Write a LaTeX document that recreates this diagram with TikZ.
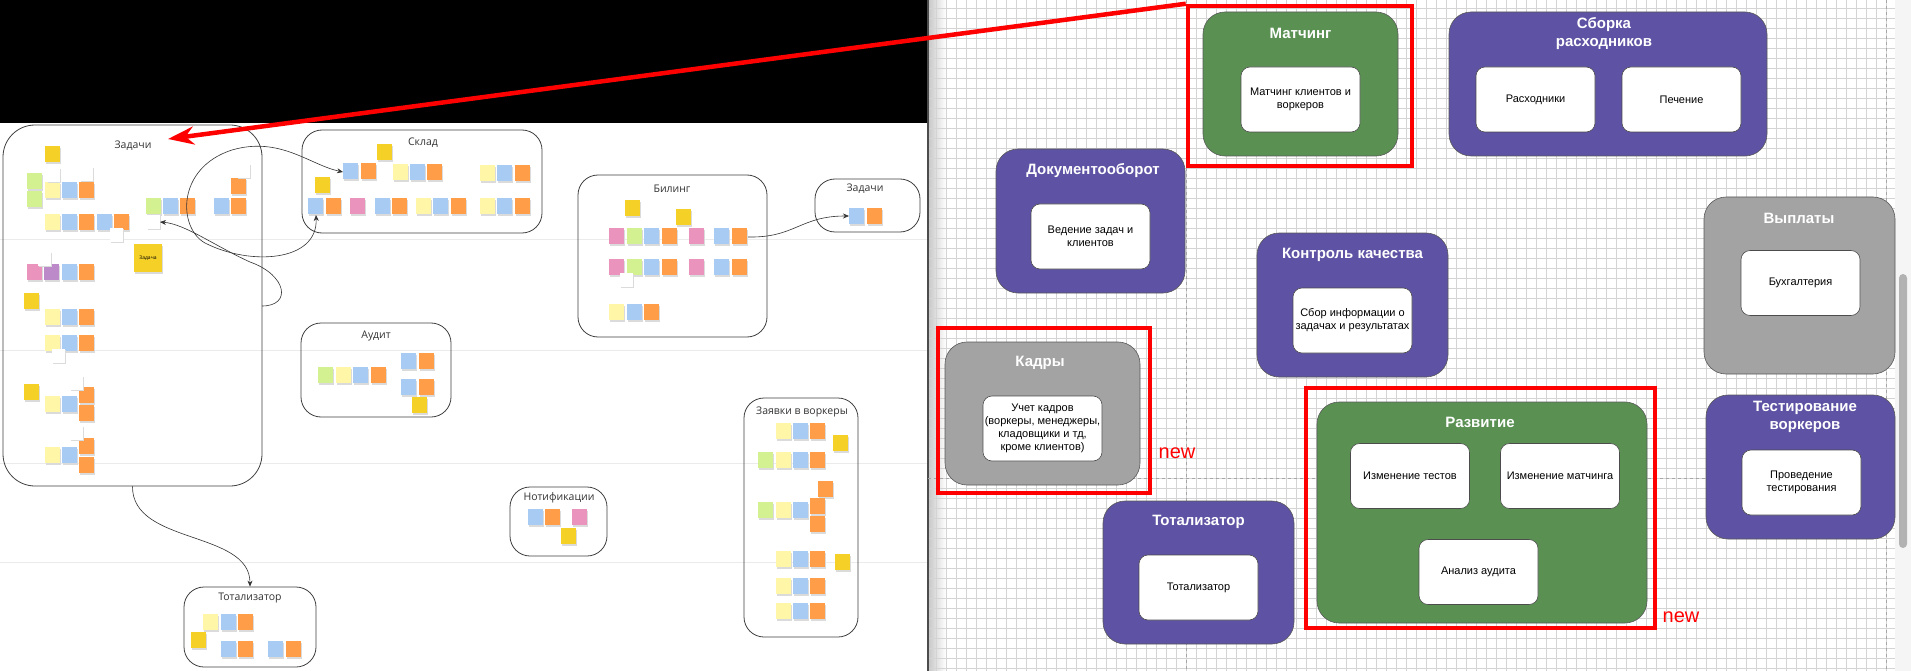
\documentclass[tikz,border=0pt]{standalone}
\usepackage{fontspec}
\setmainfont{Liberation Sans}
\newfontfamily\miro{Open Sans}
\usepackage{tikz}
\usetikzlibrary{arrows.meta,positioning}
\definecolor{cPur}{HTML}{5D52A3}
\definecolor{cGrn}{HTML}{5A9153}
\definecolor{cGry}{HTML}{A3A3A3}
\definecolor{yS}{HTML}{F5D128}
\definecolor{lY}{HTML}{FFF6A8}
\definecolor{bL}{HTML}{A7CBF2}
\definecolor{oR}{HTML}{FF9D48}
\definecolor{gR}{HTML}{D3F191}
\definecolor{pK}{HTML}{E993BD}
\definecolor{vI}{HTML}{BC8AC9}
\newcommand\stk[3]{\fill[black!14] (#1+0.6,#2+1.6) rectangle ++(15.2,16.2);
  \fill[#3] (#1,#2) rectangle ++(15.2,16.2);}
\newcommand\wnote[2]{\fill[black!14] (#1+0.6,#2+1.2) rectangle ++(13,14);
  \fill[white] (#1,#2) rectangle ++(13,14);}
\tikzset{
  frm/.style={draw=black!75, line width=0.8pt, rounded corners=20pt, inner sep=0pt},
  fttl/.style={font=\miro\fontsize{10.5}{12}\selectfont, text=black!80},
  lnk/.style={-{Stealth[length=6pt,width=5pt]}, line width=0.6pt, draw=black!80},
  grp/.style={draw=black!65, line width=0.6pt, fill=#1, rounded corners=22pt, inner sep=0pt},
  gttl/.style={text=white, font=\bfseries\fontsize{15}{18}\selectfont, align=center},
  inbox/.style={draw=black!70, line width=0.6pt, fill=white, rounded corners=9pt, inner sep=0pt,
                minimum width=119pt, minimum height=65pt, align=center, font=\fontsize{11}{13}\selectfont},
  redbox/.style={draw=red, line width=4.5pt, inner sep=0pt},
  newlbl/.style={text=red, font=\fontsize{20}{22}\selectfont},
  redarr/.style={-{Stealth[length=26pt,width=18pt]}, line width=4.5pt, draw=red},
}
\begin{document}
\begin{tikzpicture}[x=1pt,y=-1pt]
  \useasboundingbox (0,0) rectangle (1911,671);
  \fill[white] (0,0) rectangle (1911,671);
  % left board
  \fill[black] (0,0) rectangle (927,123);
  \foreach \yy in {239,350,463,562} \draw[black!8, line width=0.8pt] (0,\yy) -- (927,\yy);
  \node[frm, minimum width=259pt, minimum height=361pt, rounded corners=32pt] (zad) at (132.5,305.5) {};
  \node[fttl] (zadT) at (133,146) {Задачи};
  \node[frm, minimum width=240pt, minimum height=103pt] (sklad) at (422,181.5) {};
  \node[fttl] (skladT) at (423,143) {Склад};
  \node[frm, minimum width=189pt, minimum height=162pt] (bil) at (672.5,256) {};
  \node[fttl] (bilT) at (672,189) {Билинг};
  \node[frm, minimum width=105pt, minimum height=53pt] (zad2) at (867.5,205.5) {};
  \node[fttl] (zad2T) at (865,189) {Задачи};
  \node[frm, minimum width=150pt, minimum height=94pt] (aud) at (376,370) {};
  \node[fttl] (audT) at (376,336) {Аудит};
  \node[frm, minimum width=97pt, minimum height=69pt] (notif) at (558.5,521.5) {};
  \node[fttl] (notifT) at (559,498) {Нотификации};
  \node[frm, minimum width=114pt, minimum height=239pt] (zayv) at (801,517.5) {};
  \node[fttl] (zayvT) at (802,412) {Заявки в воркеры};
  \node[frm, minimum width=132pt, minimum height=80pt] (tot) at (250,627) {};
  \node[fttl] (totT) at (250,598) {Тотализатор};
  % sticky notes
  \foreach \x/\y/\c in {45/146/yS,27/173/gR,27/191/gR,45/182/lY,62/182/bL,79/182/oR,
      45/214/lY,62/214/bL,79/214/oR,97/214/bL,114/214/oR,
      146/198/gR,163/198/bL,180/198/oR,214/198/bL,231/198/oR,231/178/oR,
      27/264/pK,44/264/vI,62/264/bL,79/264/oR,24/293/yS,
      45/309/lY,62/309/bL,79/309/oR,45/335/lY,62/335/bL,79/335/oR,
      24/384/yS,45/396/lY,62/396/bL,79/387/oR,79/405/oR,
      45/447/lY,62/447/bL,79/438/oR,79/457/oR,
      377/144/yS,343/163/bL,361/163/oR,393/164/lY,410/164/bL,427/164/oR,
      480/165/lY,497/165/bL,515/165/oR,315/177/yS,
      308/198/bL,326/198/oR,350/198/pK,375/198/bL,392/198/oR,416/198/lY,433/198/bL,451/198/oR,
      480/198/lY,497/198/bL,515/198/oR,
      625/200/yS,676/209/yS,
      609/228/pK,627/228/gR,644/228/bL,662/228/oR,689/228/pK,714/228/bL,732/228/oR,
      609/259/pK,627/259/gR,644/259/bL,662/259/oR,689/259/pK,714/259/bL,732/259/oR,
      609/304/lY,627/304/bL,644/304/oR,
      849/208/bL,867/208/oR,
      318/367/gR,336/367/lY,353/367/bL,371/367/oR,401/353/bL,419/353/oR,401/379/bL,419/379/oR,412/397/yS,
      528/509/bL,545/509/oR,572/509/pK,561/528/yS,
      776/423/lY,793/423/bL,810/423/oR,833/435/yS,758/452/gR,776/452/lY,793/452/bL,810/452/oR,
      818/481/oR,758/502/gR,776/502/lY,793/502/bL,810/498/oR,810/516/oR,
      776/551/lY,793/551/bL,810/551/oR,835/554/yS,776/578/lY,793/578/bL,810/578/oR,
      776/603/lY,793/603/bL,810/603/oR,
      203/614/lY,221/614/bL,238/614/oR,191/632/yS,221/641/bL,238/641/oR,268/641/bL,286/641/oR}
    {\stk{\x}{\y}{\c}}
  \foreach \x/\y in {47/168,80/167,110/228,237/164,147/215,38/252,52/349,70/376,70/426,620/273}
    {\wnote{\x}{\y}}
  \fill[black!14] (134.8,245.8) rectangle ++(28,28);
  \fill[yS] (134,244) rectangle ++(28,28);
  \node[font=\miro\fontsize{5}{6}\selectfont] (zadacha) at (148,258) {Задача};
  % links between frames
  \coordinate (zaySb) at (343,172);
  \coordinate (pechB) at (316,215);
  \coordinate (zadR) at (262,306);
  \coordinate (wnoteR) at (160,222);
  \coordinate (bilOut) at (748,237);
  \coordinate (zad2In) at (849,216);
  \draw[lnk, {Stealth[length=6pt,width=5pt]}-{Stealth[length=6pt,width=5pt]}] (pechB)
    .. controls (318,262) and (250,266) .. (205,243)
    .. controls (178,228) and (176,168) .. (232,150)
    .. controls (280,136) and (310,165) .. (zaySb);
  \draw[lnk] (zadR) .. controls (292,306) and (287,275) .. (250,262)
    .. controls (215,246) and (185,224) .. (wnoteR);
  \draw[lnk] (bilOut) .. controls (795,238) and (800,216) .. (zad2In);
  \draw[lnk] (zad.south) .. controls (132,545) and (250,530) .. (tot.north);
  % right canvas
  \fill[white] (928,0) rectangle (1911,671);
  \shade[left color=black!22, right color=white] (928,0) rectangle (946,671);
  \foreach \gx in {936,946,...,1896} \draw[black!17, line width=0.5pt] (\gx,0) -- (\gx,671);
  \foreach \gy in {8,18,...,668} \draw[black!17, line width=0.5pt] (928,\gy) -- (1895,\gy);
  \fill[black!4] (1895,0) rectangle (1911,671);
  \fill[black!30, rounded corners=4pt] (1899,274) rectangle (1907,548);
  \draw[black!70, line width=1.2pt] (928,0) -- (928,671);
  \draw[black!35, dashed, line width=0.8pt] (1186,0) -- (1186,671);
  \draw[black!35, dashed, line width=0.8pt] (1886,0) -- (1886,671);
  \draw[black!35, dashed, line width=0.8pt] (928,478) -- (1886,478);
  % groups
  \node[grp=cGrn, minimum width=195pt, minimum height=144pt] (match) at (1300.5,84) {};
  \node[gttl] (matchT) at (1300.5,33) {Матчинг};
  \node[inbox] (match1) at (1300.5,99.5) {Матчинг клиентов и\\воркеров};
  \node[redbox, minimum width=224pt, minimum height=160pt] (matchR) at (1300,86) {};

  \node[grp=cPur, minimum width=318pt, minimum height=144pt] (sbor) at (1608,84) {};
  \node[gttl] (sborT) at (1604,34) {Сборка\\расходников};
  \node[inbox] (sbor1) at (1535.5,99.5) {Расходники};
  \node[inbox] (sbor2) at (1681.5,99.5) {Печение};

  \node[grp=cPur, minimum width=189pt, minimum height=144pt] (doc) at (1090.5,221) {};
  \node[gttl] (docT) at (1093,171) {Документооборот};
  \node[inbox] (doc1) at (1090.5,236.5) {Ведение задач и\\клиентов};

  \node[grp=cPur, minimum width=191pt, minimum height=144pt] (qc) at (1352.5,305) {};
  \node[gttl] (qcT) at (1352.5,255) {Контроль качества};
  \node[inbox] (qc1) at (1352.5,320.5) {Сбор информации о\\задачах и результатах};

  \node[grp=cGry, minimum width=191pt, minimum height=177pt] (pay) at (1799.5,285.5) {};
  \node[gttl] (payT) at (1799,218) {Выплаты};
  \node[inbox] (pay1) at (1800.5,283) {Бухгалтерия};

  \node[grp=cGry, minimum width=195pt, minimum height=143pt] (hr) at (1042.5,413.5) {};
  \node[gttl] (hrT) at (1040,363) {Кадры};
  \node[inbox] (hr1) at (1042.5,428.5) {Учет кадров\\(воркеры, менеджеры,\\кладовщики и тд,\\кроме клиентов)};
  \node[redbox, minimum width=212pt, minimum height=165pt] (hrR) at (1044,410.5) {};
  \node[newlbl] (hrNew) at (1177,453) {new};

  \node[grp=cGrn, minimum width=330pt, minimum height=221pt] (dev) at (1482,512.5) {};
  \node[gttl] (devT) at (1480,422) {Развитие};
  \node[inbox] (dev1) at (1410,476) {Изменение тестов};
  \node[inbox] (dev2) at (1560,476) {Изменение матчинга};
  \node[inbox] (dev3) at (1478.5,572) {Анализ аудита};
  \node[redbox, minimum width=349pt, minimum height=240pt] (devR) at (1480.5,508) {};
  \node[newlbl] (devNew) at (1681,617) {new};

  \node[grp=cPur, minimum width=189pt, minimum height=144pt] (test) at (1800.5,467) {};
  \node[gttl] (testT) at (1805,417) {Тестирование\\воркеров};
  \node[inbox] (test1) at (1801.5,482.5) {Проведение\\тестирования};

  \node[grp=cPur, minimum width=191pt, minimum height=143pt] (totR) at (1198.5,572.5) {};
  \node[gttl] (totRT) at (1198.5,522) {Тотализатор};
  \node[inbox] (totR1) at (1198.5,587.5) {Тотализатор};
  % pointer back to the board
  \coordinate (zadTip) at (168,139);
  \draw[redarr] (matchR.north west) -- (zadTip);
\end{tikzpicture}
\end{document}
